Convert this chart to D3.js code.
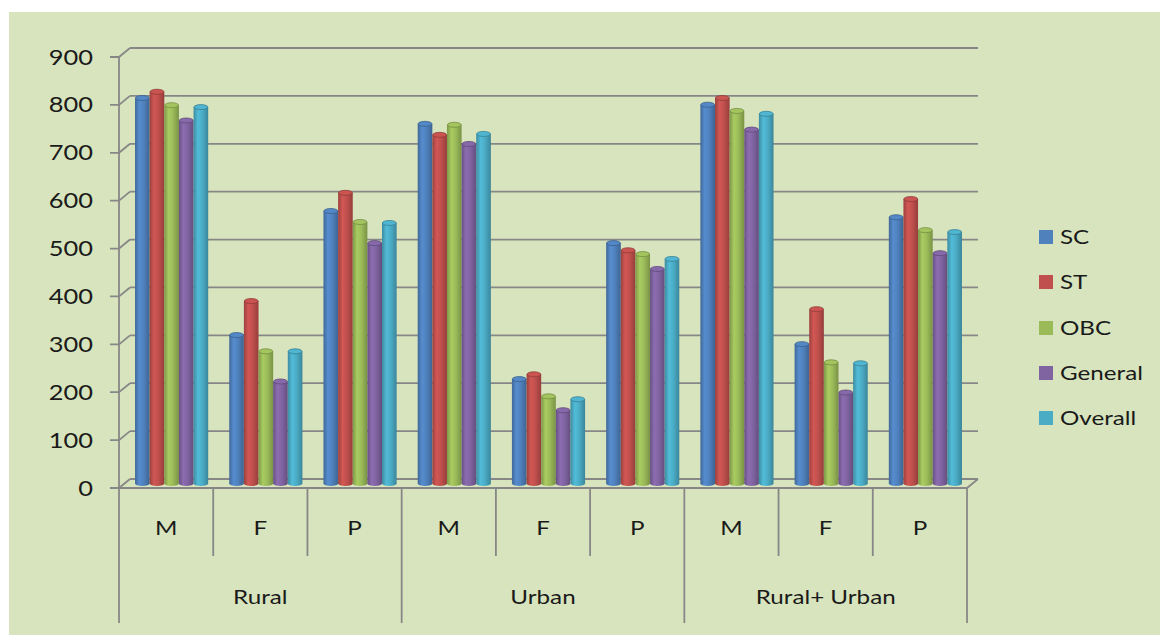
<!DOCTYPE html>
<html>
<head>
<meta charset="utf-8">
<script src="https://cdn.jsdelivr.net/npm/d3@7"></script>
<style>
  body { margin: 0; background: #fff; }
  svg { display: block; }
  text { font-family: Lato, "Open Sans", sans-serif; fill: #1a1a1a; }
</style>
</head>
<body>
<svg id="chart" width="1160" height="635"></svg>
<script>
const groups = ["Rural", "Urban", "Rural+ Urban"];
const subCats = ["M", "F", "P"];
const series = ["SC", "ST", "OBC", "General", "Overall"];
const colors = ["#4F81BD", "#C0504D", "#9BBB59", "#8064A2", "#4BACC6"];

const scValues      = [805, 310, 569, 751, 218, 502, 791, 291, 556];
const stValues      = [818, 381, 607, 728, 228, 487, 805, 364, 594];
const obcValues     = [790, 276, 546, 749, 182, 479, 778, 253, 529];
const generalValues = [758, 213, 502, 709, 153, 448, 739, 190, 481];
const overallValues = [786, 276, 544, 730, 176, 469, 772, 251, 525];
const yTicks = [0, 100, 200, 300, 400, 500, 600, 700, 800, 900];

const values = [scValues, stValues, obcValues, generalValues, overallValues];
const categories = groups.flatMap(g => subCats.map(s => ({ group: g, sub: s })));

const svg = d3.select("#chart");
const DX = 11, DY = -9;          // depth of the 3D box
const gridColor = "#878787";
const sx = 1.21;                  // horizontal stretch of the text

svg.append("rect")
    .attr("x", 9).attr("y", 12)
    .attr("width", 1151).attr("height", 623)
    .attr("fill", "#D7E4BD");

const y = d3.scaleLinear().domain([0, 900]).range([488, 57]);
const x0 = d3.scaleBand().domain(d3.range(categories.length)).range([119, 967]);
const x1 = d3.scaleBand().domain(series).range([0, x0.bandwidth()]).paddingOuter(0.72);
const xEnd = x0.range()[1];

// back wall gridlines
svg.append("g").selectAll("line")
    .data(yTicks)
    .join("line")
    .attr("x1", 119 + DX).attr("x2", xEnd + DX)
    .attr("y1", d => y(d) + DY).attr("y2", d => y(d) + DY)
    .attr("stroke", gridColor).attr("stroke-width", 1.8);

// ticks: front tick + diagonal to the wall
const tickG = svg.append("g");
tickG.selectAll("path")
    .data(yTicks)
    .join("path")
    .attr("d", d => `M110,${y(d)}H119L${119 + DX},${y(d) + DY}`)
    .attr("fill", "none")
    .attr("stroke", gridColor).attr("stroke-width", 1.8);

tickG.selectAll("text")
    .data(yTicks)
    .join("text")
    .attr("transform", d => `translate(93,${y(d)}) scale(${sx},1)`)
    .attr("text-anchor", "end")
    .attr("dy", "0.36em")
    .style("font-size", "21px")
    .text(d => d);

// floor
svg.append("path")
    .attr("d", `M119,${y(0)}H${xEnd}L${xEnd + DX},${y(0) + DY}`)
    .attr("fill", "none")
    .attr("stroke", gridColor).attr("stroke-width", 1.8);

// vertical axis + category separators
svg.append("line")
    .attr("x1", 119).attr("x2", 119).attr("y1", y(900)).attr("y2", 623)
    .attr("stroke", gridColor).attr("stroke-width", 1.8);

const sepIdx = d3.range(1, categories.length + 1);
svg.append("g").selectAll("line")
    .data(sepIdx)
    .join("line")
    .attr("x1", i => i < categories.length ? x0(i) : xEnd)
    .attr("x2", i => i < categories.length ? x0(i) : xEnd)
    .attr("y1", y(0))
    .attr("y2", i => i % 3 === 0 ? 623 : 556)
    .attr("stroke", gridColor).attr("stroke-width", 1.8);

// category labels
svg.append("g").selectAll("text")
    .data(categories)
    .join("text")
    .attr("transform", (d, i) => `translate(${x0(i) + x0.bandwidth() / 2},528) scale(${sx},1)`)
    .attr("text-anchor", "middle")
    .attr("dy", "0.36em")
    .style("font-size", "20px")
    .text(d => d.sub);

svg.append("g").selectAll("text")
    .data(groups)
    .join("text")
    .attr("transform", (d, i) => `translate(${x0(i * 3) + x0.bandwidth() * 1.5},597) scale(${sx},1)`)
    .attr("text-anchor", "middle")
    .attr("dy", "0.36em")
    .style("font-size", "20px")
    .text(d => d);

// gradients for cylinders
const defs = svg.append("defs");
colors.forEach((c, i) => {
    const g = defs.append("linearGradient").attr("id", "cyl" + i)
        .attr("x1", "0%").attr("x2", "100%").attr("y1", "0%").attr("y2", "0%");
    const base = d3.color(c);
    g.append("stop").attr("offset", "0%").attr("stop-color", base.darker(0.6));
    g.append("stop").attr("offset", "30%").attr("stop-color", base.brighter(0.25));
    g.append("stop").attr("offset", "60%").attr("stop-color", base);
    g.append("stop").attr("offset", "100%").attr("stop-color", base.darker(0.7));
});

// bars
const bw = x1.bandwidth();
const ry = 2.5;
const base0 = y(0) + DY / 2;
const barData = [];
categories.forEach((cat, ci) => {
    series.forEach((s, si) => {
        barData.push({ ci, si, s, v: values[si][ci] });
    });
});

const bars = svg.append("g").selectAll("g")
    .data(barData)
    .join("g")
    .attr("transform", d => `translate(${x0(d.ci) + x1(d.s) + DX / 2},0)`);

bars.append("ellipse")
    .attr("cx", bw / 2).attr("cy", base0)
    .attr("rx", bw / 2).attr("ry", ry)
    .attr("fill", d => `url(#cyl${d.si})`);

bars.append("rect")
    .attr("x", 0).attr("width", bw)
    .attr("y", d => y(d.v) + DY / 2)
    .attr("height", d => base0 - (y(d.v) + DY / 2))
    .attr("fill", d => `url(#cyl${d.si})`);

bars.append("ellipse")
    .attr("cx", bw / 2).attr("cy", d => y(d.v) + DY / 2)
    .attr("rx", bw / 2 - 0.4).attr("ry", ry)
    .attr("fill", d => d3.color(colors[d.si]).brighter(0.15))
    .attr("stroke", d => d3.color(colors[d.si]).darker(0.8))
    .attr("stroke-width", 0.8);

// legend
const legendY = [237, 282, 328, 373, 418];
const legend = svg.append("g").selectAll("g")
    .data(series)
    .join("g")
    .attr("transform", (d, i) => `translate(1039,${legendY[i]})`);

legend.append("rect")
    .attr("x", 0).attr("y", -7)
    .attr("width", 14).attr("height", 14)
    .attr("fill", (d, i) => colors[i]);

legend.append("text")
    .attr("transform", `translate(21,0) scale(${sx},1)`)
    .attr("dy", "0.36em")
    .style("font-size", "20px")
    .text(d => d);
</script>
</body>
</html>
